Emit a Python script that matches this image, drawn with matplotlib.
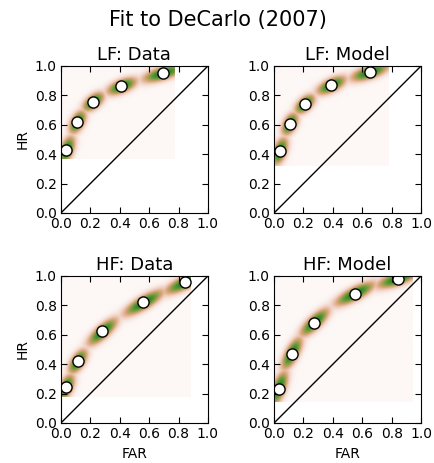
import numpy as np
import matplotlib
matplotlib.use("Agg")
import matplotlib.pyplot as plt
from matplotlib.colors import LinearSegmentedColormap

# observed / predicted (FAR, HR) pairs for the five confidence criteria
lf_data_far = [0.038, 0.111, 0.219, 0.412, 0.692]
lf_data_hr = [0.430, 0.620, 0.758, 0.864, 0.952]
lf_model_far = [0.039, 0.107, 0.209, 0.390, 0.651]
lf_model_hr = [0.420, 0.605, 0.741, 0.870, 0.959]
hf_data_far = [0.034, 0.113, 0.281, 0.561, 0.846]
hf_data_hr = [0.245, 0.420, 0.623, 0.820, 0.959]
hf_model_far = [0.032, 0.120, 0.274, 0.549, 0.841]
hf_model_hr = [0.232, 0.468, 0.680, 0.875, 0.977]

# range covered by the posterior predictive samples
lf_data_extent = [-0.02, 0.77, 0.37, 1.0]
lf_model_extent = [-0.02, 0.78, 0.32, 1.0]
hf_data_extent = [-0.02, 0.88, 0.18, 1.0]
hf_model_extent = [-0.02, 0.94, 0.14, 1.0]

titles = ["LF: Data", "LF: Model", "HF: Data", "HF: Model"]

cmap = LinearSegmentedColormap.from_list(
    "ppc",
    [(0.0, "#fdf8f6"), (0.2, "#f0cfc2"), (0.4, "#d6a271"),
     (0.62, "#7a9f40"), (1.0, "#127a20")])


def predictive_density(far, hr, extent, n=200):
    far = np.asarray(far)
    hr = np.asarray(hr)
    xs = np.linspace(extent[0], extent[1], n)
    ys = np.linspace(extent[2], extent[3], n)
    X, Y = np.meshgrid(xs, ys)
    # direction of the ROC at each point from neighbouring points
    dx = np.gradient(far)
    dy = np.gradient(hr)
    ang = np.arctan2(dy, dx)
    pts = np.column_stack([far, hr])
    dist = np.sqrt(((pts[:, None, :] - pts[None, :, :]) ** 2).sum(-1))
    dist[dist == 0] = np.inf
    near = dist.min(axis=1)
    Z = np.zeros_like(X)
    for i in range(len(far)):
        u = (X - far[i]) * np.cos(ang[i]) + (Y - hr[i]) * np.sin(ang[i])
        v = -(X - far[i]) * np.sin(ang[i]) + (Y - hr[i]) * np.cos(ang[i])
        sl = 0.32 * near[i]
        ss = 0.03
        Z = np.maximum(Z, np.exp(-0.5 * ((u / sl) ** 2 + (v / ss) ** 2)))
    return Z


panels = [
    (lf_data_far, lf_data_hr, lf_data_extent),
    (lf_model_far, lf_model_hr, lf_model_extent),
    (hf_data_far, hf_data_hr, hf_data_extent),
    (hf_model_far, hf_model_hr, hf_model_extent),
]

fig = plt.figure(figsize=(4.35, 4.63), dpi=100)
fig.patch.set_facecolor("white")
lefts = [0.140, 0.630]
bottoms = [0.540, 0.0864]
ticks = [0.0, 0.2, 0.4, 0.6, 0.8, 1.0]

for k, (far, hr, ext) in enumerate(panels):
    row, col = divmod(k, 2)
    ax = fig.add_axes([lefts[col], bottoms[row], 0.338, 0.3175])
    Z = predictive_density(far, hr, ext)
    ax.imshow(Z, extent=ext, origin="lower", cmap=cmap, aspect="auto",
              interpolation="bilinear", vmin=0, vmax=1)
    ax.plot([0, 1], [0, 1], color="black", lw=1)
    ax.plot(far, hr, "o", ms=8, mfc="white", mec="black", mew=1)
    ax.set_xlim(0, 1)
    ax.set_ylim(0, 1)
    ax.set_xticks(ticks)
    ax.set_yticks(ticks)
    ax.tick_params(direction="in", top=True, right=True, length=4,
                   labelsize=10, pad=3)
    ax.set_title(titles[k], fontsize=13, pad=4)
    if col == 0:
        ax.set_ylabel("HR", fontsize=10)
    if row == 1:
        ax.set_xlabel("FAR", fontsize=10)

fig.suptitle("Fit to DeCarlo (2007)", fontsize=15, y=0.957, va="center")
fig.savefig("out.png", dpi=100)
